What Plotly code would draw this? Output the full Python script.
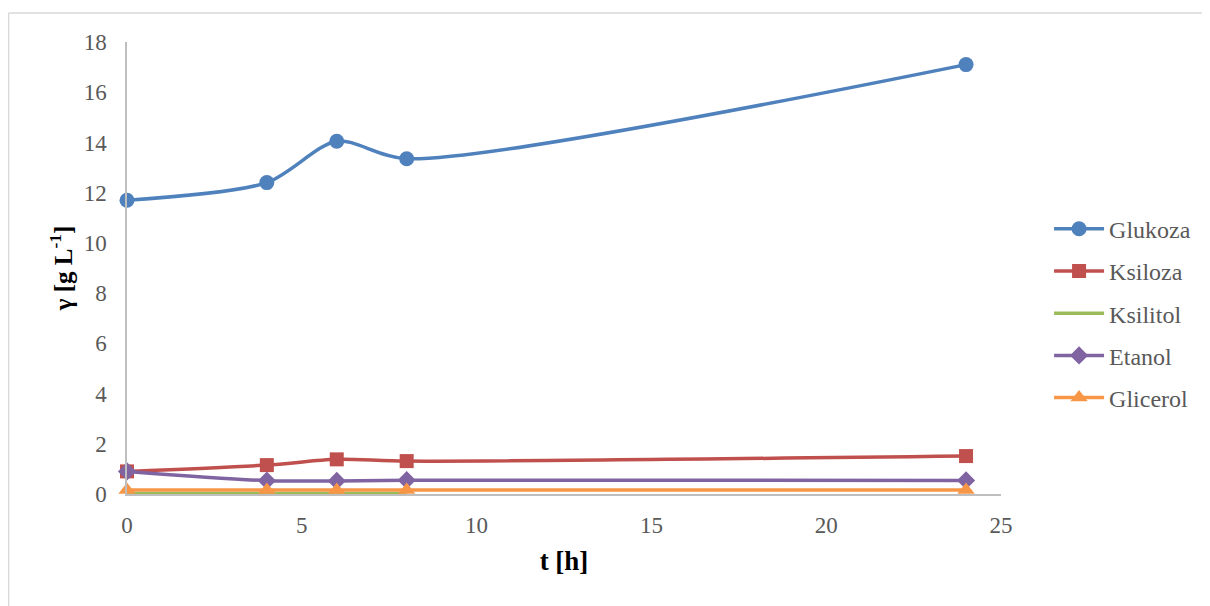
import plotly.graph_objects as go

t = [0, 4, 6, 8, 24]
t_ksilitol = [0, 4, 6, 8]
glukoza = [11.7, 12.4, 14.05, 13.35, 17.1]
ksiloza = [0.9, 1.15, 1.38, 1.31, 1.51]
ksilitol = [0.02, 0.02, 0.02, 0.02]
etanol = [0.9, 0.53, 0.52, 0.55, 0.54]
glicerol = [0.16, 0.16, 0.16, 0.16, 0.16]

FONT = "Liberation Serif"

fig = go.Figure()
series = [
    ("Glukoza", t, glukoza, "#4F81BD", "circle", 15),
    ("Ksiloza", t, ksiloza, "#C0504D", "square", 14),
    ("Ksilitol", t_ksilitol, ksilitol, "#9BBB59", "line-ew", 1),
    ("Etanol", t, etanol, "#8064A2", "diamond", 14),
    ("Glicerol", t, glicerol, "#F79646", "triangle-up", 15),
]
for name, xs, ys, col, sym, sz in series:
    fig.add_trace(go.Scatter(
        x=xs, y=ys, name=name, mode="lines+markers", legendgroup=name,
        line=dict(color=col, width=3.5, shape="spline", smoothing=0.8),
        marker=dict(color=col, symbol=sym, size=sz, line=dict(width=0, color=col)),
        cliponaxis=False,
    ))

fig.update_layout(
    width=1202, height=598,
    paper_bgcolor="white", plot_bgcolor="white",
    margin=dict(l=119, r=209, t=34, b=112),
    font=dict(family=FONT, color="#595959", size=23),
    showlegend=True,
    legend=dict(
        x=1.055, y=0.40, xanchor="left", yanchor="middle",
        font=dict(family=FONT, size=24, color="#595959"),
        tracegroupgap=8, itemwidth=50, bgcolor="rgba(0,0,0,0)",
    ),
    xaxis=dict(
        range=[0, 25], tickvals=[0, 5, 10, 15, 20, 25],
        showgrid=False, zeroline=False, showline=True, linecolor="#BFBFBF", linewidth=1.5,
        ticks="", ticklabelstandoff=10, tickfont=dict(family=FONT, size=23, color="#595959"),
        title=dict(text="<b>t [h]</b>", font=dict(family=FONT, size=27, color="black"), standoff=14),
    ),
    yaxis=dict(
        range=[0, 18], tickvals=[0, 2, 4, 6, 8, 10, 12, 14, 16, 18],
        showgrid=False, zeroline=False, showline=True, linecolor="#BFBFBF", linewidth=1.5,
        ticks="", ticklabelstandoff=14, tickfont=dict(family=FONT, size=23, color="#595959"),
        title=dict(text="<b>γ [g L<sup>-1</sup>]</b>", font=dict(family=FONT, size=25, color="black"), standoff=4),
    ),
    shapes=[
        dict(type="line", xref="paper", yref="paper", x0=-0.1355, x1=1.25, y0=1.064, y1=1.064,
             line=dict(color="#D9D9D9", width=1.5)),
        dict(type="line", xref="paper", yref="paper", x0=-0.1355, x1=-0.1355, y0=-0.26, y1=1.064,
             line=dict(color="#D9D9D9", width=1.5)),
    ],
)

fig.write_html("out.html")
